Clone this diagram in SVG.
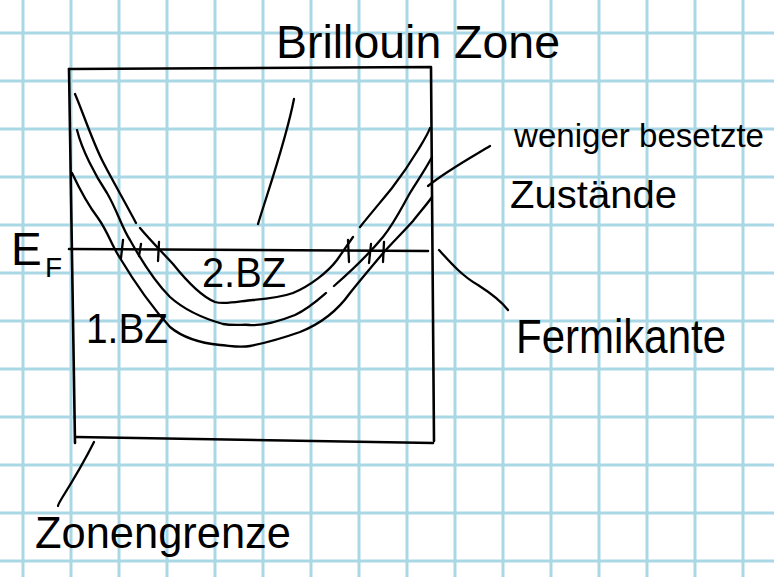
<svg xmlns="http://www.w3.org/2000/svg" width="774" height="577" viewBox="0 0 774 577">
<style>
.grid line{stroke:#a9d7e6;stroke-width:3}
.ink{fill:none;stroke:#000;stroke-width:2.6;stroke-linecap:round;stroke-linejoin:round}
.thin{fill:none;stroke:#000;stroke-width:2.3;stroke-linecap:round;stroke-linejoin:round}
text{font-family:"Liberation Sans","DejaVu Sans",sans-serif;fill:#000}
</style>
<rect width="774" height="577" fill="#fff"/>
<g id="grid" class="grid">
<line x1="23" y1="0" x2="23" y2="577"/><line x1="71" y1="0" x2="71" y2="577"/><line x1="119" y1="0" x2="119" y2="577"/><line x1="167" y1="0" x2="167" y2="577"/><line x1="215" y1="0" x2="215" y2="577"/><line x1="263" y1="0" x2="263" y2="577"/><line x1="311" y1="0" x2="311" y2="577"/><line x1="359" y1="0" x2="359" y2="577"/><line x1="407" y1="0" x2="407" y2="577"/><line x1="455" y1="0" x2="455" y2="577"/><line x1="503" y1="0" x2="503" y2="577"/><line x1="551" y1="0" x2="551" y2="577"/><line x1="599" y1="0" x2="599" y2="577"/><line x1="647" y1="0" x2="647" y2="577"/><line x1="695" y1="0" x2="695" y2="577"/><line x1="743" y1="0" x2="743" y2="577"/>
<line x1="0" y1="33" x2="774" y2="33"/><line x1="0" y1="81" x2="774" y2="81"/><line x1="0" y1="129" x2="774" y2="129"/><line x1="0" y1="177" x2="774" y2="177"/><line x1="0" y1="225" x2="774" y2="225"/><line x1="0" y1="273" x2="774" y2="273"/><line x1="0" y1="321" x2="774" y2="321"/><line x1="0" y1="369" x2="774" y2="369"/><line x1="0" y1="417" x2="774" y2="417"/><line x1="0" y1="465" x2="774" y2="465"/><line x1="0" y1="513" x2="774" y2="513"/><line x1="0" y1="561" x2="774" y2="561"/>
</g>
<g id="zone-box">
<path class="ink" d="M69,69 L431,67 L434,441"/>
<path class="ink" d="M69,69 L75,443"/>
<path class="ink" d="M76,437 L433,443"/>
</g>
<g id="fermi-level">
<path class="ink" d="M69,249 L428,251"/>
<path class="thin" d="M123,240 L121,258 M141,244 L139,256 M159,242 L158,261 M348,240 L349,262 M371,244 L369,263 M384,242 L383,262"/>
</g>
<g id="bands">
<path id="band-2" class="thin" d="M75,94 C82,110 92,140 102,160 C110,176 126,204 136,223 M140,228 C150,240 162,252 173,264 C185,279 200,296 215,302 C225,305 240,301 253,300 C265,299 282,297 293,293 C310,286 328,272 337,260 L353,237 M360,227 C372,212 384,198 392,188 C402,175 412,160 418,150 C424,140 428,134 430,128"/>
<path id="band-mid" class="thin" d="M77,130 C82,150 95,175 107,193 C117,210 122,228 130,240 C140,258 155,282 170,297 C180,306 195,316 223,324 C235,326 245,324 250,325 C265,326 280,321 295,315 C308,309 318,300 326,293 M334,286 C350,272 368,255 383,237 C395,222 403,205 410,193 C418,180 425,170 432,157"/>
<path id="band-1" class="thin" d="M72,173 C80,190 88,205 98,218 C108,232 112,246 120,258 C132,278 150,305 170,327 C182,337 200,343 220,345 C232,346 240,348 250,346 C265,343 283,338 300,332 C320,324 338,310 350,293 C362,278 373,265 384,252 C395,240 405,230 413,221 C420,212 428,203 432,197"/>
</g>
<g id="connectors">
<path class="thin" d="M294,99 C286,140 270,185 258,224"/>
<path class="thin" d="M490,146 C470,158 445,172 428,186"/>
<path class="thin" d="M439,250 C450,262 462,276 478,285 C492,294 502,302 508,310"/>
<path class="thin" d="M94,442 C85,460 72,482 62,498 C59,503 58,505 58,506"/>
</g>
<g id="label-brillouin"><text x="276" y="58" font-size="46" textLength="284" lengthAdjust="spacingAndGlyphs">Brillouin Zone</text></g>
<g id="label-weniger"><text x="514" y="147" font-size="33" textLength="250" lengthAdjust="spacingAndGlyphs">weniger besetzte</text><text x="510" y="208" font-size="38" textLength="167" lengthAdjust="spacingAndGlyphs">Zustände</text></g>
<g id="label-ef"><text x="11" y="265" font-size="46">E</text><text x="45" y="277" font-size="28">F</text></g>
<g id="label-2bz"><text x="202" y="287" font-size="42" textLength="84" lengthAdjust="spacingAndGlyphs">2.BZ</text></g>
<g id="label-1bz"><text x="86" y="343" font-size="42" textLength="82" lengthAdjust="spacingAndGlyphs">1.BZ</text></g>
<g id="label-fermikante"><text x="516" y="353" font-size="48" textLength="210" lengthAdjust="spacingAndGlyphs">Fermikante</text></g>
<g id="label-zonengrenze"><text x="35" y="548" font-size="45" textLength="256" lengthAdjust="spacingAndGlyphs">Zonengrenze</text></g>
</svg>
